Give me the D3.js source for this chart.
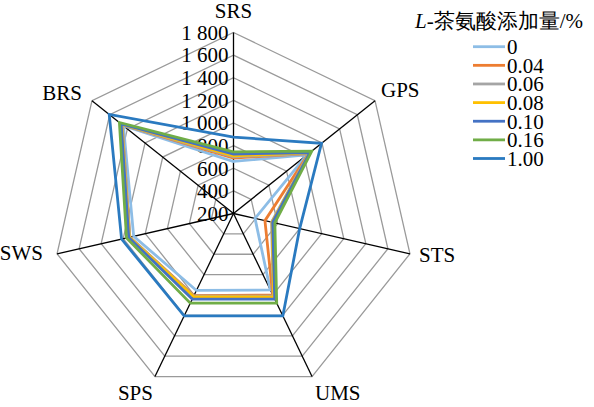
<!DOCTYPE html>
<html>
<head>
<meta charset="utf-8">
<script src="https://cdn.jsdelivr.net/npm/d3@7"></script>
<style>
  html, body { margin: 0; padding: 0; background: #fff; }
  svg { display: block; }
  text { font-family: "Liberation Serif", "Times New Roman", serif; fill: #000; }
</style>
</head>
<body>
<svg id="chart" width="594" height="407"></svg>
<script>
// ---- data ----
const axes = ["SRS", "GPS", "STS", "UMS", "SPS", "SWS", "BRS"];
const seriesNames = ["0", "0.04", "0.06", "0.08", "0.10", "0.16", "1.00"];
const s0    = [660, 1030, 395, 950, 955, 1105, 1445];
const s004  = [690, 1050, 485, 1000, 1005, 1140, 1460];
const s006  = [700, 1050, 545, 1010, 1010, 1140, 1460];
const s008  = [710, 1060, 550, 1020, 1015, 1145, 1465];
const s010  = [725, 1065, 555, 1040, 1040, 1150, 1470];
const s016  = [745, 1085, 575, 1080, 1080, 1170, 1490];
const s100  = [875, 1195, 800, 1205, 1205, 1215, 1605];
const tickValues = [200, 400, 600, 800, 1000, 1200, 1400, 1600, 1800];
const tickLabels = ["200", "400", "600", "800", "1 000", "1 200", "1 400", "1 600", "1 800"];
const legendTitleItalic = "L";
const legendTitleRest = "-茶氨酸添加量/%";

const seriesValues = [s0, s004, s006, s008, s010, s016, s100];
const colors = ["#8DBDE6", "#ED7D31", "#A5A5A5", "#FFC000", "#4472C4", "#70AD47", "#2A7AC0"];

// ---- layout ----
const cx = 233.5, cy = 213.5, R = 181;
const svg = d3.select("#chart");
const r = d3.scaleLinear().domain([200, 1800]).range([0, R]);
const n = axes.length;
const ang = d3.scaleLinear().domain([0, n]).range([0, 2 * Math.PI]);

const g = svg.append("g").attr("transform", `translate(${cx},${cy})`);

// grid rings
const ringLine = d3.lineRadial()
  .angle((d, i) => ang(i))
  .radius(d => r(d))
  .curve(d3.curveLinearClosed);

g.selectAll("path.ring")
  .data(tickValues.slice(1))
  .join("path")
  .attr("class", "ring")
  .attr("d", v => ringLine(axes.map(() => v)))
  .attr("fill", "none")
  .attr("stroke", "#9a9a9a")
  .attr("stroke-width", 1.3);

// spokes
const maxV = tickValues[tickValues.length - 1];
g.selectAll("line.spoke")
  .data(axes)
  .join("line")
  .attr("class", "spoke")
  .attr("x1", 0).attr("y1", 0)
  .attr("x2", (d, i) => r(maxV) * Math.sin(ang(i)))
  .attr("y2", (d, i) => -r(maxV) * Math.cos(ang(i)))
  .attr("stroke", "#000")
  .attr("stroke-width", 1.3);

// tick labels along the top axis
g.selectAll("text.tick")
  .data(tickValues)
  .join("text")
  .attr("class", "tick")
  .attr("x", -5)
  .attr("y", v => -r(v))
  .attr("dy", "0.35em")
  .attr("text-anchor", "end")
  .attr("font-size", 21)
  .text((v, i) => tickLabels[i]);

// series
const seriesLine = d3.lineRadial()
  .angle((d, i) => ang(i))
  .radius(d => r(d))
  .curve(d3.curveLinearClosed);

g.selectAll("path.series")
  .data(seriesValues)
  .join("path")
  .attr("class", "series")
  .attr("d", d => seriesLine(d))
  .attr("fill", "none")
  .attr("stroke", (d, i) => colors[i])
  .attr("stroke-width", 2.8)
  .attr("stroke-linejoin", "miter");

// axis labels
const labelPlace = [
  { anchor: "middle", dx: 0,   dy: -15 },
  { anchor: "start",  dx: 6,   dy: -4 },
  { anchor: "start",  dx: 9,   dy: 8 },
  { anchor: "start",  dx: 3,   dy: 23 },
  { anchor: "end",    dx: -2,  dy: 23 },
  { anchor: "end",    dx: -14, dy: 6 },
  { anchor: "end",    dx: -10, dy: -1 }
];
g.selectAll("text.axis")
  .data(axes)
  .join("text")
  .attr("class", "axis")
  .attr("x", (d, i) => r(maxV) * Math.sin(ang(i)) + labelPlace[i].dx)
  .attr("y", (d, i) => -r(maxV) * Math.cos(ang(i)) + labelPlace[i].dy)
  .attr("text-anchor", (d, i) => labelPlace[i].anchor)
  .attr("font-size", 21)
  .text(d => d);

// legend
const lg = svg.append("g");
const title = lg.append("text")
  .attr("x", 415).attr("y", 27.5)
  .attr("font-size", 21);
title.append("tspan").attr("font-style", "italic").text(legendTitleItalic);
title.append("tspan").text(legendTitleRest);

const rowY = d3.scalePoint().domain(seriesNames).range([46.7, 158.5]);
const items = lg.selectAll("g.item")
  .data(seriesNames)
  .join("g")
  .attr("class", "item")
  .attr("transform", d => `translate(0,${rowY(d)})`);
items.append("line")
  .attr("x1", 473).attr("x2", 505)
  .attr("y1", 0).attr("y2", 0)
  .attr("stroke", (d, i) => colors[i])
  .attr("stroke-width", 2.8);
items.append("text")
  .attr("x", 507).attr("y", 0).attr("dy", "0.35em")
  .attr("font-size", 21)
  .text(d => d);
</script>
</body>
</html>
